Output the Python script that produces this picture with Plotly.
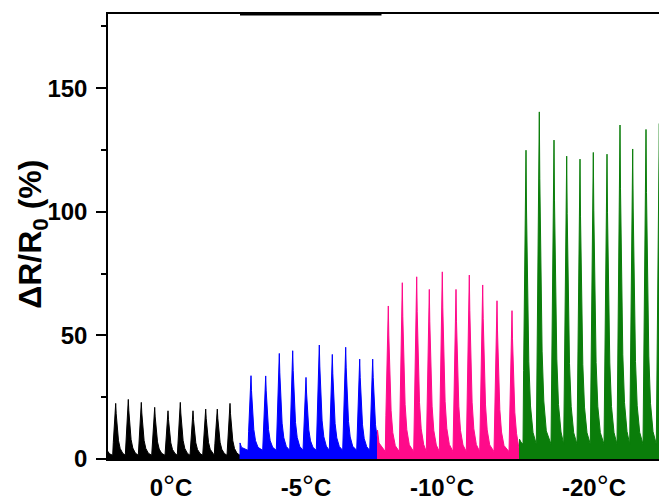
import plotly.graph_objects as go

# ---------------- data ----------------
categories = ["0", "-5", "-10", "-20"]          # stage temperatures (°C)
category_centers = [63, 198, 334, 486]          # time (s) at label centre
segment_start = [0, 132, 269.5, 411.5]
segment_end = [132, 269.5, 411.5, 600]

black_t = [7.7, 20.3, 33.3, 46.7, 60.0, 72.3, 85.0, 97.7, 109.3, 122.0]
black_h = [22.5, 24.1, 22.9, 20.9, 19.5, 22.9, 19.5, 20.2, 20.2, 22.5]

blue_t = [143.0, 157.7, 171.3, 184.7, 198.0, 211.3, 224.3, 237.7, 251.7, 264.7]
blue_h = [33.7, 33.6, 42.7, 43.8, 33.0, 46.1, 42.3, 45.2, 40.4, 40.4]

pink_t = [280.3, 294.3, 308.7, 321.3, 334.3, 348.0, 361.3, 374.7, 389.0, 404.0]
pink_h = [61.9, 71.3, 73.7, 68.6, 75.7, 68.6, 74.4, 70.4, 64.0, 60.0]

green_t = [418.0, 431.3, 446.0, 458.7, 472.0, 485.3, 499.0, 512.0, 524.7, 538.0, 551.3, 564.5]
green_h = [124.9, 140.4, 129.0, 122.5, 121.3, 124.0, 123.3, 135.1, 125.4, 133.3, 135.7, 130.0]

floors = [1.5, 3.5, 3.0, 6.0]          # resting level between cycles
start_bump = [3.0, 6.5, 11.7, 8.0]     # small step at start of each stage

# pulse profile (offset from apex in s, fraction of apex above floor)
pulse_dt = [-3.0, -2.4, -1.6, -0.8, 0.0, 0.5, 1.4, 2.8, 4.5, 7.0]
pulse_frac = [0.0, 0.25, 0.55, 0.8, 1.0, 0.8, 0.5, 0.28, 0.13, 0.04]

colors = ["#000000", "#0000FF", "#FF0A8A", "#0A7D0A"]
series_t = [black_t, blue_t, pink_t, green_t]
series_h = [black_h, blue_h, pink_h, green_h]


def build(i):
    xs = [segment_start[i], segment_start[i]]
    ys = [0, start_bump[i]]
    xs.append(segment_start[i] + 1.5)
    ys.append(floors[i] + (start_bump[i] - floors[i]) * 0.4)
    for t, h in zip(series_t[i], series_h[i]):
        for dt, f in zip(pulse_dt, pulse_frac):
            x = t + dt
            if x <= segment_start[i] + 1.5 or x >= segment_end[i]:
                continue
            xs.append(x)
            ys.append(floors[i] + f * (h - floors[i]))
    xs += [segment_end[i], segment_end[i]]
    ys += [floors[i], 0]
    return xs, ys


fig = go.Figure()
for i in range(4):
    xs, ys = build(i)
    fig.add_trace(go.Scatter(
        x=xs, y=ys, mode="lines", fill="tozeroy",
        line=dict(color=colors[i], width=1),
        fillcolor=colors[i], showlegend=False, hoverinfo="skip"))

font_family = "Arial, Liberation Sans, sans-serif"
deg = "<span style='font-size:30px;font-weight:normal'>°</span>"
tick_text = [c + deg + "C" for c in categories]

# the page body adds an 8 px margin, so the figure is sized to fit inside it
fig.update_layout(
    width=659, height=494,
    margin=dict(l=100, r=0, t=6, b=43),
    paper_bgcolor="white", plot_bgcolor="white",
    font=dict(family=font_family, color="black"),
    xaxis=dict(
        range=[0, 559], showgrid=False, zeroline=False,
        showline=True, linecolor="black", linewidth=1.5, mirror=True,
        tickvals=category_centers, ticktext=tick_text, ticks="",
        tickfont=dict(size=24, weight="bold", family=font_family),
        ticklabelstandoff=6,
    ),
    yaxis=dict(
        range=[0, 180], showgrid=False, zeroline=False,
        showline=True, linecolor="black", linewidth=1.5, mirror=False,
        tickvals=[0, 50, 100, 150], ticks="outside", ticklen=10, tickwidth=1.5,
        tickcolor="black",
        tickfont=dict(size=24, weight="bold", family=font_family),
        ticklabelstandoff=4,
        minor=dict(tickvals=[25, 75, 125, 175], ticks="outside", ticklen=5,
                   tickwidth=1.5, tickcolor="black"),
    ),
    annotations=[dict(
        text="ΔR/R<sub>0</sub> (%)", textangle=-90,
        xref="paper", yref="paper", x=-0.134, y=0.504,
        xanchor="center", yanchor="middle", showarrow=False,
        font=dict(size=32, weight="bold", family=font_family, color="black"),
    )],
    shapes=[dict(type="line", xref="x", yref="paper", x0=132, x1=273.5,
                 y0=1, y1=1, line=dict(color="black", width=3))],
)

fig.write_html("out.html")
